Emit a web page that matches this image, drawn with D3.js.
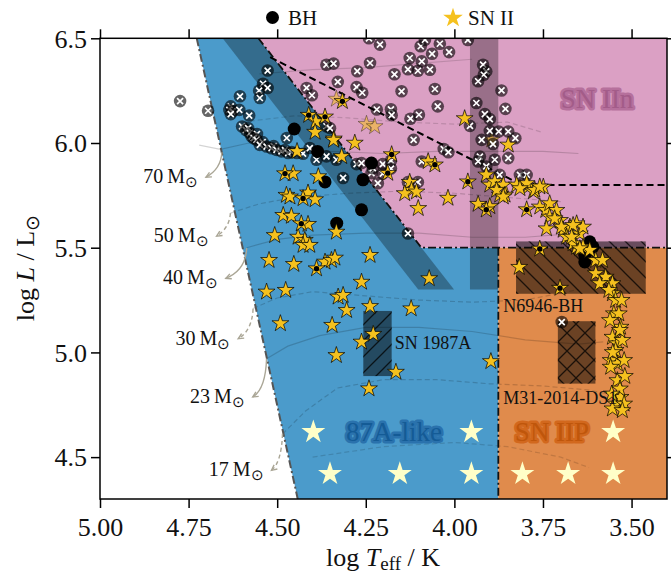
<!DOCTYPE html>
<html><head><meta charset="utf-8">
<script src="https://cdn.jsdelivr.net/npm/d3@7"></script>
<style>body{margin:0;background:#fff}svg{display:block}text{font-family:"Liberation Serif","Times New Roman",serif}</style>
</head><body><svg id="c" width="671" height="576"></svg>
<script>
// ---------- data (log Teff, log L) ----------
const xTicks = [5.00, 4.75, 4.50, 4.25, 4.00, 3.75, 3.50];
const yTicks = [4.5, 5.0, 5.5, 6.0, 6.5];

// region outlines
const blueRegion   = [[4.727,6.5],[4.553,6.5],[4.093,5.5],[3.876,5.5],[3.876,4.3],[4.442,4.3]];
const darkBand     = [[4.654,6.5],[4.553,6.5],[4.001,5.3],[4.102,5.3]];
const pinkRegion   = [[4.553,6.5],[3.40,6.5],[3.40,5.5],[4.093,5.5]];
const orangeRegion = [[3.876,5.5],[3.40,5.5],[3.40,4.3],[3.876,4.3]];
const grayBand     = [[3.956,6.5],[3.876,6.5],[3.876,5.3],[3.956,5.3]];
const edgeLeft  = [[4.727,6.5],[4.442,4.3]];
const edgePink  = [[4.553,6.5],[4.093,5.5],[3.40,5.5]];
const edgeVert  = [[3.876,5.5],[3.876,4.3]];
const dashedCut = [[4.52,6.41],[3.81,5.80],[3.40,5.80]];

// progenitor boxes
const boxNames = ["SN 1987A", "N6946-BH", "M31-2014-DS1"];
const boxTeff  = [[4.257,4.177],[3.826,3.460],[3.708,3.602]];
const boxLum   = [[4.887,5.198],[5.280,5.530],[4.851,5.149]];

// evolutionary tracks
const trackMass = ["70","50","40","30","23","17"];
const tracks = [
  [[4.72,5.99],[4.66,5.97],[4.58,6.00],[4.48,5.98],[4.35,5.96],[4.20,5.95],[4.05,5.96],[3.90,5.96],[3.75,5.96],[3.65,5.95]],
  [[4.632,5.665],[4.55,5.71],[4.45,5.74],[4.30,5.76],[4.15,5.77],[4.00,5.76],[3.85,5.74],[3.70,5.72]],
  [[4.586,5.50],[4.50,5.54],[4.40,5.56],[4.25,5.57],[4.10,5.57],[3.95,5.55],[3.80,5.55],[3.65,5.57]],
  [[4.568,5.21],[4.50,5.26],[4.40,5.29],[4.25,5.27],[4.10,5.25],[3.95,5.24],[3.80,5.25],[3.65,5.30]],
  [[4.53,4.97],[4.47,5.03],[4.38,5.08],[4.25,5.12],[4.10,5.12],[3.95,5.10],[3.80,5.06],[3.65,5.04],[3.58,5.05]],
  [[4.485,4.61],[4.42,4.72],[4.33,4.83],[4.20,4.87],[4.05,4.87],[3.90,4.85],[3.75,4.84],[3.62,4.82],[3.56,4.80]]
];
const extraTracks = [
  [[4.60,6.10],[4.45,6.13],[4.30,6.12],[4.15,6.10],[4.00,6.09],[3.85,6.10],[3.75,6.05]],
  [[4.55,6.33],[4.40,6.35],[4.25,6.36],[4.10,6.38],[3.95,6.40]],
  [[4.40,4.50],[4.20,4.55],[4.00,4.57],[3.85,4.55],[3.70,4.50],[3.62,4.45]]
];
const arrowTail = [[4.656,5.956],[4.632,5.665],[4.586,5.498],[4.568,5.209],[4.530,4.970],[4.485,4.612]];
const arrowTip  = [[4.701,5.837],[4.671,5.555],[4.645,5.354],[4.610,5.066],[4.569,4.787],[4.516,4.437]];

// circles with a cross
const crossed = [
[4.774,6.200],[4.695,6.154],
[4.527,6.346],[4.540,6.283],[4.527,6.263],[4.551,6.250],[4.549,6.215],[4.605,6.223],
[4.631,6.175],[4.635,6.158],[4.626,6.151],[4.607,6.158],[4.631,6.138],[4.579,6.131],[4.599,6.079],
[4.588,6.062],[4.582,6.071],[4.577,6.047],[4.572,6.031],[4.557,6.043],[4.566,6.023],[4.558,6.015],[4.541,6.004],[4.549,5.991],[4.530,5.983],[4.510,5.985],[4.516,5.975],[4.502,5.967],[4.488,5.960],[4.478,5.966],[4.469,5.952],[4.459,5.957],[4.445,5.952],[4.427,5.949],
[4.473,6.024],[4.408,5.976],[4.361,5.936],[4.333,5.920],[4.389,5.920],[4.314,5.833],
[4.276,5.899],[4.262,5.904],[4.234,5.856],[4.230,5.880],[4.216,5.808],[4.202,5.899],[4.179,5.915],[4.179,5.878],[4.202,5.854],[4.131,5.568],
[4.361,6.374],[4.341,6.379],[4.274,6.343],[4.238,6.382],[4.210,6.470],[4.417,6.263],[4.402,6.228],[4.329,6.292],[4.276,6.267],[4.260,6.240],[4.219,6.160],[4.361,6.080],[4.351,6.071],[4.179,6.161],[4.177,6.133],
[4.095,6.462],[4.083,6.493],[4.041,6.474],[4.015,6.434],[4.063,6.426],[4.092,6.390],[4.126,6.406],[4.131,6.352],[4.103,6.345],[4.069,6.350],[4.169,6.328],[4.149,6.247],[4.055,6.258],[4.047,6.175],[4.124,6.116],[4.100,6.135],[4.115,6.015],[4.030,5.971],[4.017,5.956],[4.092,5.912],[4.131,5.813],[4.103,5.813],
[3.919,6.374],[3.910,6.342],[3.917,6.326],[3.933,6.295],[3.938,6.191],[3.914,6.138],[3.900,6.114],[3.956,6.082],[3.900,6.058],[3.923,6.015],[3.891,5.995],[3.875,6.055],[3.848,6.055],[3.928,5.935],[3.886,5.920],[3.933,5.912],[3.910,5.888],[3.872,5.848],[3.848,5.928],[3.867,6.251],[3.856,6.163],[3.828,6.023],[3.815,5.848],[3.796,5.848],
[3.697,5.145],[4.241,6.500],[3.962,6.492]
];

// black holes
const bhPoints = [[4.452,6.067],[4.386,5.960],[4.258,5.824],[4.234,5.904],[4.262,5.681],[4.332,5.617],[4.365,5.814],
[3.618,5.528],[3.609,5.504],[3.623,5.487],[3.632,5.464],[3.632,5.432]];

// SN II progenitors
const snII = [
[4.391,6.103],[4.393,6.052],[4.340,6.020],[4.281,6.000],[4.444,5.960],[4.318,5.936],[4.384,5.840],[4.455,5.854],[4.341,6.014],
[4.474,5.751],[4.464,5.743],[4.413,5.762],[4.393,5.730],[4.483,5.655],[4.460,5.651],[4.413,5.612],[4.333,5.575],[4.507,5.559],[4.441,5.551],[4.422,5.536],[4.427,5.512],[4.408,5.512],
[4.523,5.440],[4.453,5.421],[4.365,5.432],[4.347,5.440],[4.337,5.451],[4.238,5.464],[4.262,5.336],[4.530,5.289],[4.476,5.297],[4.328,5.265],[4.314,5.273],[4.304,5.201],[4.238,5.220],[4.122,5.209],[4.491,5.138],[4.345,5.130],[4.229,5.087],[4.262,5.050],[4.333,4.986],[4.165,4.906],[4.241,4.827],[4.071,5.353],[3.897,4.957],
[4.126,5.813],[4.121,5.775],[4.140,5.759],[4.107,5.767],[4.102,5.688],[3.971,6.117],[3.848,5.991],[4.074,5.912],[4.018,5.737],[3.910,5.848],[3.900,5.800],[3.886,5.816],[3.862,5.800],[3.857,5.752],[3.872,5.752],[3.933,5.708],[3.900,5.697],[3.824,5.800],[3.791,5.792],[3.777,5.768],[3.796,5.807],[3.773,5.775],[3.749,5.790],[3.759,5.695],[3.742,5.679],[3.731,5.647],[3.702,5.631],[3.693,5.584],[3.674,5.599],[3.655,5.615],[3.646,5.567],[3.637,5.599],[3.683,5.551],[3.655,5.503],[3.637,5.503],[3.618,5.488],[3.817,5.407],[3.731,5.711],[3.712,5.679],[3.717,5.639],[3.740,5.591],[3.698,5.599],[3.665,5.607],[3.881,5.775],[3.862,5.743],[3.815,5.783],[3.759,5.791],[3.665,5.520],[3.646,5.496],[3.669,5.551],
[3.601,5.440],[3.582,5.440],[3.601,5.377],[3.573,5.360],[3.554,5.329],[3.590,5.329],[3.554,5.281],[3.545,5.249],[3.550,5.185],[3.536,5.185],[3.531,5.121],[3.554,5.073],[3.540,5.042],[3.526,5.058],[3.559,4.962],[3.540,4.946],[3.521,4.962],[3.540,4.866],[3.531,4.786],[3.545,4.754],[3.521,4.754],[3.545,5.010],[3.559,4.930],[3.554,4.731],[3.526,4.723],[3.561,5.153],[3.528,5.249],[3.564,5.297],[3.533,4.826],[3.556,4.802],[3.519,4.886],[3.533,5.106],[3.553,5.000]
];
const snIIfaint = [[4.333,6.210],[4.248,6.090],[4.225,6.079],[3.895,6.015]];
const snIIwithBH = [[4.411,6.133],[4.365,6.125],[4.478,5.854],[4.316,6.199],[4.188,5.856],[4.427,5.735],[4.432,5.615],[4.389,5.400],[4.177,5.945],[4.055,5.896],[3.962,5.815],[3.910,5.681],[3.796,5.682],[3.759,5.494],[3.702,5.307]];
const paleStars = [[4.398,4.62],[3.952,4.62],[3.552,4.62],[4.351,4.42],[4.154,4.42],[3.952,4.42],[3.808,4.42],[3.679,4.42],[3.552,4.42]];

// ---------- drawing ----------
const svg = d3.select("#c");
const x = d3.scaleLinear().domain([5.0, 3.4]).range([100, 667]);
const y = d3.scaleLinear().domain([4.3, 6.5]).range([499, 38.3]);
const line = d3.line().x(d => x(d[0])).y(d => y(d[1]));
const poly = pts => line(pts) + "Z";

const defs = svg.append("defs");
defs.append("clipPath").attr("id","clip").append("rect")
  .attr("x",100).attr("y",38.3).attr("width",567).attr("height",460.7);
function hatch(id, d, s){
  const p = defs.append("pattern").attr("id",id).attr("patternUnits","userSpaceOnUse").attr("width",s).attr("height",s);
  p.append("path").attr("d",d).attr("stroke","#000").attr("stroke-width",1.3).attr("stroke-opacity",0.75).attr("fill","none");
}
const S = 16, C = 18;
hatch("hBack", `M0,0L${S},${S}M${-S/2},${S/2}L${S/2},${S*1.5}M${S/2},${-S/2}L${S*1.5},${S/2}`, S);
hatch("hFwd", `M0,${S}L${S},0M${-S/2},${S/2}L${S/2},${-S/2}M${S/2},${S*1.5}L${S*1.5},${S/2}`, S);
hatch("hCross", `M0,0L${C},${C}M${-C/2},${C/2}L${C/2},${C*1.5}M${C/2},${-C/2}L${C*1.5},${C/2}M0,${C}L${C},0M${-C/2},${C/2}L${C/2},${-C/2}M${C/2},${C*1.5}L${C*1.5},${C/2}`, C);

const plot = svg.append("g").attr("clip-path","url(#clip)");

plot.append("path").attr("d",poly(blueRegion)).attr("fill","#4b9bcb");
plot.append("path").attr("d",poly(darkBand)).attr("fill","#000").attr("fill-opacity",0.3);
plot.append("path").attr("d",poly(pinkRegion)).attr("fill","#dba0c4");
plot.append("path").attr("d",poly(orangeRegion)).attr("fill","#e08b4c");
plot.append("path").attr("d",poly(grayBand)).attr("fill","#000").attr("fill-opacity",0.3);

// tracks
const dashedTrack = [false,true,false,true,false,true];
tracks.forEach((t,i) => plot.append("path").attr("d",line(t)).attr("fill","none")
  .attr("stroke","#000").attr("stroke-opacity",0.17).attr("stroke-width",1.2)
  .attr("stroke-dasharray", dashedTrack[i] ? "5,3" : null));
extraTracks.forEach((t,i) => plot.append("path").attr("d",line(t)).attr("fill","none")
  .attr("stroke","#000").attr("stroke-opacity",0.14).attr("stroke-width",1.2)
  .attr("stroke-dasharray", i%2 ? null : "5,3"));

// boundaries
plot.append("path").attr("d",line(edgeLeft)).attr("fill","none").attr("stroke","#555").attr("stroke-width",2).attr("stroke-dasharray","8,3,2,3");
plot.append("path").attr("d",line(edgePink)).attr("fill","none").attr("stroke","#111").attr("stroke-width",1.8).attr("stroke-dasharray","8,3,2,3");
plot.append("path").attr("d",line(edgeVert)).attr("fill","none").attr("stroke","#111").attr("stroke-width",1.8).attr("stroke-dasharray","8,3,2,3");
plot.append("path").attr("d",line(dashedCut)).attr("fill","none").attr("stroke","#000").attr("stroke-width",2).attr("stroke-dasharray","7,4");

// boxes
const hatchIds = ["hFwd","hBack","hCross"];
boxNames.forEach((n,i) => {
  const x0 = x(boxTeff[i][0]), x1 = x(boxTeff[i][1]), y0 = y(boxLum[i][1]), y1 = y(boxLum[i][0]);
  plot.append("rect").attr("x",x0).attr("y",y0).attr("width",x1-x0).attr("height",y1-y0).attr("fill","#000").attr("fill-opacity",0.52);
  plot.append("rect").attr("x",x0).attr("y",y0).attr("width",x1-x0).attr("height",y1-y0).attr("fill",`url(#${hatchIds[i]})`);
});
const boxLabel = (i, px, py) => svg.append("text").attr("x",px).attr("y",py).attr("font-size",18).attr("fill","#111").text(boxNames[i]);
boxLabel(0, x(boxTeff[0][1]) + 3, (y(boxLum[0][0]) + y(boxLum[0][1]))/2 + 5);
boxLabel(1, x(3.876) + 5, y(boxLum[1][0]) + 18);
boxLabel(2, x(3.876) + 5, y(boxLum[2][0]) + 20);

// pale reference stars
plot.selectAll(".pale").data(paleStars).join("path")
  .attr("d", d3.symbol().type(d3.symbolStar).size(178)())
  .attr("transform", d => `translate(${x(d[0])},${y(d[1])})`)
  .attr("fill","#ffffc8");

// region labels
function regionLabel(t, px, py, fill, stroke){
  svg.append("text").attr("x",px).attr("y",py).attr("text-anchor","middle").attr("font-size",27)
    .attr("fill",fill).attr("stroke",stroke).attr("stroke-width",5).attr("stroke-linejoin","round")
    .attr("paint-order","stroke").text(t);
}
regionLabel("87A-like", 394, 441, "#145b96", "#2a72ad");
regionLabel("SN IIP", 552, 441, "#bf560b", "#d2681d");
regionLabel("SN IIn", 597, 108, "#a35c89", "#b6709c");

// mass arrows and labels
const dashedArrow = [false,true,false,true,false,true];
trackMass.forEach((m,i) => {
  const tx = x(arrowTail[i][0]), ty = y(arrowTail[i][1]);
  const hx = x(arrowTip[i][0]), hy = y(arrowTip[i][1]);
  const cx = tx - 1, cy = hy - 8;
  svg.append("path").attr("d",`M${tx},${ty}Q${cx},${cy} ${hx},${hy}`).attr("fill","none")
    .attr("stroke","#aaa696").attr("stroke-width",1.4).attr("stroke-dasharray", dashedArrow[i] ? "4,3" : null);
  const a = Math.atan2(hy-cy, hx-cx), L = 6;
  svg.append("path").attr("d",`M${hx - L*Math.cos(a-0.45)},${hy - L*Math.sin(a-0.45)}L${hx},${hy}L${hx - L*Math.cos(a+0.45)},${hy - L*Math.sin(a+0.45)}`)
    .attr("fill","none").attr("stroke","#aaa696").attr("stroke-width",1.4);
  const t = svg.append("text").attr("x",hx-8).attr("y",hy+6).attr("text-anchor","end").attr("font-size",20).attr("fill","#111");
  t.append("tspan").text(m + "\u2009M");
  t.append("tspan").attr("dy",4).attr("font-size",15).text("\u2299");
});

// points
const starSym = d3.symbol().type(d3.symbolStar).size(88)();
plot.selectAll(".sf").data(snIIfaint).join("path").attr("d",starSym)
  .attr("transform", d => `translate(${x(d[0])},${y(d[1])})`)
  .attr("fill","#f5c11e").attr("fill-opacity",0.55).attr("stroke","#000").attr("stroke-opacity",0.5).attr("stroke-width",0.7);

const xg = plot.selectAll(".xc").data(crossed).join("g")
  .attr("transform", d => `translate(${x(d[0])},${y(d[1])})`);
xg.append("circle").attr("r",6.3).attr("fill","#000").attr("fill-opacity",0.6);
xg.append("path").attr("d","M-3,-3L3,3M-3,3L3,-3").attr("stroke","#fff").attr("stroke-width",1.7);

plot.selectAll(".bh").data(bhPoints).join("circle")
  .attr("cx", d => x(d[0])).attr("cy", d => y(d[1])).attr("r",6.5).attr("fill","#000");

plot.selectAll(".sn").data(snII).join("path").attr("d",starSym)
  .attr("transform", d => `translate(${x(d[0])},${y(d[1])})`)
  .attr("fill","#f5c11e").attr("stroke","#000").attr("stroke-width",0.7);

const sb = plot.selectAll(".sb").data(snIIwithBH).join("g")
  .attr("transform", d => `translate(${x(d[0])},${y(d[1])})`);
sb.append("path").attr("d",starSym).attr("fill","#f5c11e").attr("stroke","#000").attr("stroke-width",0.7);
sb.append("circle").attr("r",2.7).attr("fill","#000");

// axes
function styleAxis(g){
  g.select(".domain").remove();
  g.attr("font-family","Liberation Serif, Times New Roman, serif").attr("font-size",26);
  g.selectAll("line").attr("stroke","#000").attr("stroke-width",1.5);
  g.selectAll("text").attr("fill","#111");
}
svg.append("g").attr("transform","translate(0,499)")
  .call(d3.axisBottom(x).tickValues(xTicks).tickSize(9).tickPadding(9.5).tickFormat(d3.format(".2f"))).call(styleAxis);
svg.append("g").attr("transform","translate(0,38.3)")
  .call(d3.axisTop(x).tickValues(xTicks).tickSize(9).tickFormat("")).call(styleAxis);
svg.append("g").attr("transform","translate(100,0)")
  .call(d3.axisLeft(y).tickValues(yTicks).tickSize(9).tickPadding(4).tickFormat(d3.format(".1f"))).call(styleAxis)
  .selectAll("text").attr("dy","0.34em");
svg.append("g").attr("transform","translate(667,0)")
  .call(d3.axisRight(y).tickValues(yTicks).tickSize(9).tickFormat("")).call(styleAxis);
svg.append("rect").attr("x",100).attr("y",38.3).attr("width",567).attr("height",460.7)
  .attr("fill","none").attr("stroke","#000").attr("stroke-width",1.5);

// axis titles
const xl = svg.append("text").attr("x",383).attr("y",566).attr("text-anchor","middle").attr("font-size",26).attr("fill","#111");
xl.append("tspan").text("log ");
xl.append("tspan").attr("font-style","italic").text("T");
xl.append("tspan").attr("dy",4).attr("font-size",19).text("eff");
xl.append("tspan").attr("dy",-4).text(" / K");
const yl = svg.append("text").attr("transform","translate(34,268) rotate(-90)").attr("text-anchor","middle").attr("font-size",26).attr("fill","#111");
yl.append("tspan").text("log ");
yl.append("tspan").attr("font-style","italic").text("L");
yl.append("tspan").text(" / L");
yl.append("tspan").attr("dy",5).attr("font-size",19).text("\u2299");

// legend
svg.append("circle").attr("cx",272.5).attr("cy",17.5).attr("r",6.5).attr("fill","#000");
svg.append("text").attr("x",288).attr("y",25).attr("font-size",21).attr("fill","#111").text("BH");
svg.append("path").attr("d",d3.symbol().type(d3.symbolStar).size(120)()).attr("transform","translate(453,18)")
  .attr("fill","#f5c11e");
svg.append("text").attr("x",468).attr("y",25).attr("font-size",21).attr("fill","#111").text("SN II");
</script></body></html>
